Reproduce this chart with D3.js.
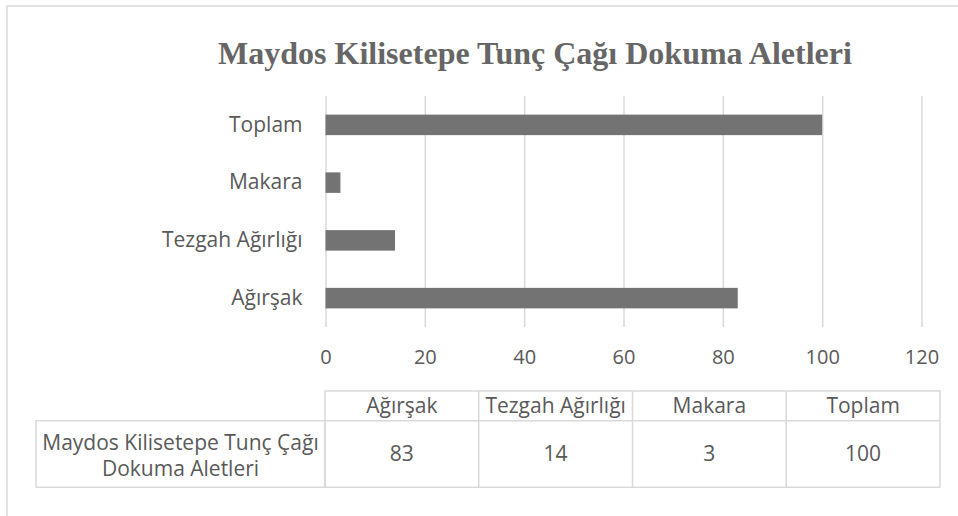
<!DOCTYPE html>
<html><head><meta charset="utf-8">
<script src="https://cdn.jsdelivr.net/npm/d3@7"></script>
<style>
body{margin:0;background:#fff;}
text{font-family:"Open Sans",sans-serif;}
</style></head>
<body>
<svg id="chart" width="958" height="516"></svg>
<script>
const title = "Maydos Kilisetepe Tunç Çağı Dokuma Aletleri";
const categories = ["Ağırşak", "Tezgah Ağırlığı", "Makara", "Toplam"];
const values = [83, 14, 3, 100];
const xTicks = [0, 20, 40, 60, 80, 100, 120];
const seriesName = ["Maydos Kilisetepe Tunç Çağı", "Dokuma Aletleri"];

const svg = d3.select("#chart");
const textColor = "#595959", gridColor = "#d9d9d9", barColor = "#737373";

// chart frame
svg.append("rect").attr("x", 7).attr("y", 6).attr("width", 960).attr("height", 520)
  .attr("fill", "none").attr("stroke", gridColor).attr("stroke-width", 1.5);

svg.append("text").attr("x", 535).attr("y", 64).attr("text-anchor", "middle")
  .style("font-family", "'Liberation Serif','Times New Roman',serif")
  .style("font-weight", "bold").style("font-size", "32px").attr("fill", "#666")
  .text(title);

const x = d3.scaleLinear().domain([0, 120]).range([325.5, 921.5]);
const y = d3.scaleBand().domain(categories.slice().reverse()).range([96, 327])
  .paddingInner(0.645).paddingOuter(0.3225);

// gridlines
const xAxis = svg.append("g").attr("transform", "translate(0,327)")
  .call(d3.axisBottom(x).tickValues(xTicks).tickSize(-231).tickPadding(23));
xAxis.select(".domain").remove();
xAxis.selectAll(".tick line").attr("stroke", gridColor).attr("stroke-width", 1.5);
xAxis.selectAll(".tick text").attr("fill", textColor).style("font-size", "20px")
  .style("font-family", "'Open Sans',sans-serif");

// bars
svg.append("g").selectAll("rect").data(categories).join("rect")
  .attr("x", x(0)).attr("y", d => y(d))
  .attr("width", (d, i) => x(values[i]) - x(0))
  .attr("height", y.bandwidth()).attr("fill", barColor);

// category labels
const yAxis = svg.append("g").attr("transform", "translate(325.5,0)")
  .call(d3.axisLeft(y).tickSize(0).tickPadding(23));
yAxis.select(".domain").remove();
yAxis.selectAll(".tick text").attr("fill", textColor).style("font-size", "21px")
  .style("font-family", "'Open Sans',sans-serif");

// data table
const colX = d3.scaleBand().domain(categories).range([325, 940]);
const rowTop = 391, rowMid = 420.7, rowBot = 487.3;
const tb = svg.append("g").attr("stroke", gridColor).attr("stroke-width", 1.5).attr("fill", "none");
tb.append("rect").attr("x", 325).attr("y", rowTop).attr("width", 615).attr("height", rowBot - rowTop);
tb.append("rect").attr("x", 36).attr("y", rowMid).attr("width", 289).attr("height", rowBot - rowMid);
tb.append("line").attr("x1", 325).attr("x2", 940).attr("y1", rowMid).attr("y2", rowMid);
categories.slice(1).forEach(c => {
  tb.append("line").attr("x1", colX(c)).attr("x2", colX(c)).attr("y1", rowTop).attr("y2", rowBot);
});
const tt = svg.append("g").attr("fill", textColor).style("font-size", "21px").attr("text-anchor", "middle");
categories.forEach((c, i) => {
  tt.append("text").attr("x", colX(c) + colX.bandwidth() / 2).attr("y", 406).attr("dy", "0.35em").text(c);
  tt.append("text").attr("x", colX(c) + colX.bandwidth() / 2).attr("y", 454).attr("dy", "0.35em").text(values[i]);
});
seriesName.forEach((s, i) => {
  tt.append("text").attr("x", 180.5).attr("y", 443 + i * 26).attr("dy", "0.35em").text(s);
});
</script>
</body></html>
